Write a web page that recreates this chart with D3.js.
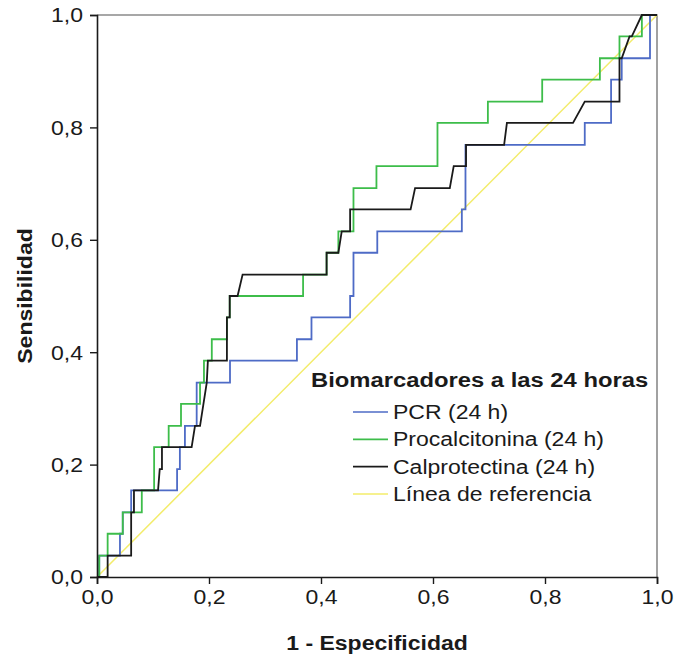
<!DOCTYPE html>
<html>
<head>
<meta charset="utf-8">
<script src="https://cdn.jsdelivr.net/npm/d3@7/dist/d3.min.js"></script>
<style>
  html, body { margin: 0; padding: 0; background: #fff; }
  svg { display: block; }
  text { font-family: "Liberation Sans", Arial, sans-serif; fill: #1a1a1a; }
</style>
</head>
<body>
<svg id="chart" width="676" height="658"></svg>
<script>
// ROC curves for biomarkers measured at 24 hours (1 - specificity vs sensitivity)
const pcrFpr  = [0, 0.004, 0.004, 0.041, 0.041, 0.046, 0.046, 0.061, 0.061, 0.143, 0.143, 0.148, 0.148, 0.157, 0.157, 0.178, 0.178, 0.2375, 0.2375, 0.357, 0.357, 0.383, 0.383, 0.452, 0.452, 0.458, 0.458, 0.5005, 0.5005, 0.6515, 0.6515, 0.658, 0.658, 0.871, 0.871, 0.918, 0.918, 0.937, 0.937, 0.9875, 0.9875, 1];
const pcrTpr  = [0, 0, 0.038, 0.038, 0.077, 0.077, 0.115, 0.115, 0.154, 0.154, 0.192, 0.192, 0.231, 0.231, 0.269, 0.269, 0.346, 0.346, 0.385, 0.385, 0.423, 0.423, 0.462, 0.462, 0.5, 0.5, 0.577, 0.577, 0.615, 0.615, 0.654, 0.654, 0.769, 0.769, 0.808, 0.808, 0.885, 0.885, 0.923, 0.923, 1, 1];

const pctFpr  = [0, 0.004, 0.004, 0.019, 0.019, 0.046, 0.046, 0.080, 0.080, 0.102, 0.102, 0.128, 0.128, 0.150, 0.150, 0.184, 0.184, 0.191, 0.191, 0.205, 0.205, 0.232, 0.232, 0.237, 0.237, 0.368, 0.368, 0.410, 0.410, 0.431, 0.431, 0.458, 0.458, 0.499, 0.499, 0.608, 0.608, 0.698, 0.698, 0.795, 0.795, 0.898, 0.898, 0.933, 0.933, 0.973, 0.973, 1];
const pctTpr  = [0, 0, 0.038, 0.038, 0.077, 0.077, 0.115, 0.115, 0.154, 0.154, 0.231, 0.231, 0.269, 0.269, 0.308, 0.308, 0.346, 0.346, 0.385, 0.385, 0.423, 0.423, 0.462, 0.462, 0.5, 0.5, 0.538, 0.538, 0.577, 0.577, 0.615, 0.615, 0.692, 0.692, 0.731, 0.731, 0.808, 0.808, 0.846, 0.846, 0.885, 0.885, 0.923, 0.923, 0.962, 0.962, 1, 1];

const calFpr  = [0, 0.019, 0.019, 0.061, 0.061, 0.066, 0.066, 0.109, 0.112, 0.116, 0.116, 0.169, 0.175, 0.184, 0.196, 0.198, 0.232, 0.232, 0.237, 0.237, 0.251, 0.260, 0.410, 0.410, 0.431, 0.437, 0.452, 0.452, 0.560, 0.568, 0.630, 0.637, 0.659, 0.659, 0.727, 0.732, 0.850, 0.871, 0.933, 0.933, 0.937, 0.951, 0.955, 0.973, 1];
const calTpr  = [0, 0, 0.038, 0.038, 0.115, 0.115, 0.154, 0.154, 0.192, 0.192, 0.231, 0.231, 0.269, 0.269, 0.346, 0.385, 0.385, 0.462, 0.462, 0.5, 0.5, 0.538, 0.538, 0.577, 0.577, 0.615, 0.615, 0.654, 0.654, 0.692, 0.692, 0.731, 0.731, 0.769, 0.769, 0.808, 0.808, 0.846, 0.846, 0.923, 0.923, 0.962, 0.962, 1, 1];

const refFpr  = [0, 1];
const refTpr  = [0, 1];

const seriesNames  = ["PCR (24 h)", "Procalcitonina (24 h)", "Calprotectina (24 h)", "Línea de referencia"];
const seriesColors = ["#4e6bc6", "#3dbd4a", "#1a1a1a", "#f3ec6a"];
const tickValues   = [0, 0.2, 0.4, 0.6, 0.8, 1.0];

const legendTitle = "Biomarcadores a las 24 horas";
const xTitle = "1 - Especificidad";
const yTitle = "Sensibilidad";

const W = 676, H = 658;
const margin = { left: 97, right: 19, top: 15, bottom: 81 };
const innerW = W - margin.left - margin.right;
const innerH = H - margin.top - margin.bottom;
const STRETCH = 1.18;       // glyphs are drawn slightly wide
const TITLE_STRETCH = 1.22; // bold legend heading is a touch wider still

const svg = d3.select("#chart");
const g = svg.append("g").attr("transform", `translate(${margin.left},${margin.top})`);

const x = d3.scaleLinear().domain([0, 1]).range([0, innerW]);
const y = d3.scaleLinear().domain([0, 1]).range([innerH, 0]);

const locale = d3.formatLocale({ decimal: ",", thousands: ".", grouping: [3], currency: ["", "€"] });
const fmt = locale.format(".1f");

// frame: top and right edges
g.append("path")
  .attr("d", `M0,0 H${innerW} V${innerH}`)
  .attr("fill", "none").attr("stroke", "#8a8a8a").attr("stroke-width", 1.6);

const zip = (a, b) => a.map((v, i) => [v, b[i]]);
const line = d3.line().x(d => x(d[0])).y(d => y(d[1]));

const curves = [
  zip(refFpr, refTpr),
  zip(pcrFpr, pcrTpr),
  zip(pctFpr, pctTpr),
  zip(calFpr, calTpr)
];
const curveColors = [seriesColors[3], seriesColors[0], seriesColors[1], seriesColors[2]];

g.selectAll("path.roc").data(curves).join("path")
  .attr("class", "roc")
  .attr("d", line)
  .attr("fill", "none")
  .attr("stroke", (d, i) => curveColors[i])
  .attr("stroke-width", (d, i) => i === 0 ? 1.5 : 1.8)
  .attr("stroke-linejoin", "miter");

// axes
const xAxis = d3.axisBottom(x).tickValues(tickValues).tickFormat(fmt).tickSizeOuter(0).tickSize(7).tickPadding(6);
const yAxis = d3.axisLeft(y).tickValues(tickValues).tickFormat(fmt).tickSizeOuter(0).tickSize(7).tickPadding(7);

const gx = g.append("g").attr("transform", `translate(0,${innerH})`).call(xAxis);
const gy = g.append("g").call(yAxis);

[gx, gy].forEach(a => {
  a.select(".domain").attr("stroke", "#1a1a1a").attr("stroke-width", 1.6);
  a.selectAll(".tick line").attr("stroke", "#1a1a1a").attr("stroke-width", 1.4);
  a.selectAll(".tick text").attr("font-size", 19.5).attr("fill", "#1a1a1a")
    .attr("font-family", '"Liberation Sans", Arial, sans-serif');
});
gx.selectAll(".tick text").attr("dy", "0.71em");
gy.selectAll(".tick text").attr("dy", "0.35em");

// axis titles
svg.append("text")
  .attr("x", margin.left + innerW / 2).attr("y", 650)
  .attr("text-anchor", "middle").attr("font-size", 19.5).attr("font-weight", "bold")
  .text(xTitle);

svg.append("text")
  .attr("transform", `translate(32,${margin.top + innerH / 2}) rotate(-90)`)
  .attr("text-anchor", "middle").attr("font-size", 19.5).attr("font-weight", "bold")
  .text(yTitle);

// legend
const lg = svg.append("g").attr("class", "legend");
lg.append("text").attr("class", "legend-title").attr("x", 311).attr("y", 387)
  .attr("font-size", 19.5).attr("font-weight", "bold").text(legendTitle);

const rowY = d3.scalePoint().domain(d3.range(seriesNames.length)).range([412, 494]);
const rows = lg.selectAll("g.row").data(seriesNames).join("g").attr("class", "row")
  .attr("transform", (d, i) => `translate(0,${rowY(i)})`);
rows.append("line").attr("x1", 353).attr("x2", 388).attr("y1", 0).attr("y2", 0)
  .attr("stroke", (d, i) => seriesColors[i]).attr("stroke-width", 1.6);
rows.append("text").attr("x", 393).attr("y", 7).attr("font-size", 19.5).text(d => d);

// widen glyphs horizontally
svg.selectAll("text").each(function () {
  const w = this.getComputedTextLength();
  const k = this.classList.contains("legend-title") ? TITLE_STRETCH : STRETCH;
  d3.select(this).attr("textLength", w * k).attr("lengthAdjust", "spacingAndGlyphs");
});
</script>
</body>
</html>
